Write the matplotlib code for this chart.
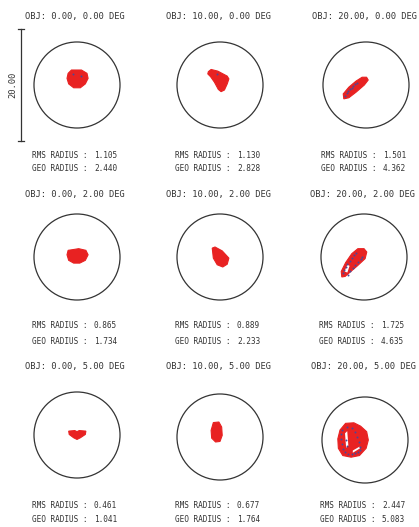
import matplotlib.pyplot as plt
from matplotlib.patches import Circle, Polygon

# --- data (units: micrometres) ---
field_x = [0.00, 10.00, 20.00, 0.00, 10.00, 20.00, 0.00, 10.00, 20.00]
field_y = [0.00, 0.00, 0.00, 2.00, 2.00, 2.00, 5.00, 5.00, 5.00]
rms_radius = [1.105, 1.130, 1.501, 0.865, 0.889, 1.725, 0.461, 0.677, 2.447]
geo_radius = [2.440, 2.828, 4.362, 1.734, 2.233, 4.635, 1.041, 1.764, 5.083]
airy_radius = 7.75
scale_bar = 20.00

# outline of each spot (x, y)
spot_outlines = [
    [(-1.0, 2.7), (0.8, 2.7), (1.8, 2.1), (2.0, 1.2), (1.5, 0.2), (0.6, -0.5),
     (-0.6, -0.5), (-1.5, 0.2), (-1.8, 1.2), (-1.6, 2.1)],
    [(-2.1, 2.4), (-1.6, 2.8), (-0.4, 2.5), (1.3, 1.6), (1.6, 1.1), (1.3, 0.2),
     (0.8, -0.9), (0.2, -1.2), (-0.3, -0.8), (-1.0, 0.5), (-1.7, 1.5), (-2.2, 2.0)],
    [(-4.0, -2.5), (-4.1, -1.6), (-3.1, -0.4), (-1.8, 0.7), (-0.7, 1.4), (0.1, 1.4),
     (0.4, 0.9), (-0.3, 0.0), (-1.8, -1.3), (-3.1, -2.3)],
    [(-1.6, 1.2), (-0.3, 1.4), (0.3, 1.5), (1.6, 1.2), (2.0, 0.4), (1.5, -0.6),
     (0.5, -1.1), (-0.6, -1.1), (-1.5, -0.6), (-1.8, 0.4)],
    [(-1.4, 1.6), (-0.9, 1.8), (0.4, 1.1), (1.6, -0.2), (1.3, -1.3), (0.5, -1.8),
     (-0.5, -1.4), (-1.2, -0.2)],
    [(-4.0, -3.6), (-4.1, -2.6), (-3.3, -1.0), (-2.2, 0.6), (-1.1, 1.5), (0.0, 1.5),
     (0.5, 0.9), (0.2, -0.3), (-1.2, -1.6), (-2.6, -2.8), (-3.4, -3.5)],
    [(-1.5, 0.7), (-0.4, 0.8), (0.0, 0.6), (0.4, 0.8), (1.6, 0.7), (1.5, 0.1),
     (0.6, -0.5), (0.0, -0.8), (-0.6, -0.5), (-1.4, 0.1)],
    [(-1.2, 2.6), (-0.2, 2.7), (0.3, 1.8), (0.4, 0.3), (0.0, -0.8), (-0.8, -0.9),
     (-1.5, -0.2), (-1.6, 1.2)],
    [(-3.5, 3.0), (-2.0, 3.1), (-0.8, 2.5), (0.3, 1.5), (0.6, 0.0), (0.2, -1.5),
     (-1.0, -2.8), (-2.5, -3.1), (-4.0, -2.8), (-4.8, -1.5), (-4.9, 0.2), (-4.5, 1.8)],
]

# gaps inside the spots
spot_holes = [
    [], [], [], [], [],
    [[(-3.5, -2.6), (-3.0, -1.4), (-2.6, -1.6), (-3.0, -2.8)]],
    [], [],
    [[(-3.6, 1.2), (-3.2, 1.6), (-3.0, -1.0), (-3.4, -1.4)],
     [(-2.2, -1.9), (-1.0, -1.2), (-0.9, -1.5), (-2.2, -2.3)]],
]

# second wavelength rays (blue)
blue_x = [
    [-0.8, 0.7],
    [-0.6],
    [-3.8, -3.5, -3.2, -2.9, -2.6, -2.3, -2.0, -1.7],
    [],
    [],
    [-3.8, -3.6, -3.3, -3.0, -2.6, -2.2, -1.8, -1.4, -2.9, -2.5, -2.0, -1.6, -1.1, -0.6, -0.3],
    [],
    [],
    [-4.2, -4.3, -4.3, -4.2, -4.0, -3.6, -3.0, -2.4, -1.8, -1.2, -0.9,
     -2.3, -1.8, -1.4, -1.1, -0.9, -3.2, -3.4, -3.3],
]
blue_y = [
    [1.9, 1.6],
    [2.0],
    [-1.9, -1.5, -1.1, -0.8, -0.5, -0.2, 0.1, 0.4],
    [],
    [],
    [-2.9, -2.4, -1.8, -1.2, -0.7, -0.2, 0.3, 0.8, -3.2, -2.6, -2.0, -1.4, -0.9, -0.4, 0.0],
    [],
    [],
    [1.8, 1.0, 0.1, -0.8, -1.6, -2.2, -2.5, -2.6, -2.4, -2.1, -1.8,
     2.2, 1.4, 0.6, -0.3, -1.3, 2.4, 0.0, -1.0],
]

W, H = 419, 527
PX_PER_UM = 5.55
HALF = 11.0
RED = "#e82222"
BLUE = "#4a4898"
INK = "#333333"

# panel centres in pixels (layout)
centres = [(77, 85), (220, 85), (366, 85),
           (77, 257), (220, 257), (364, 257),
           (77, 435), (220, 437), (365, 440)]
title_y = [17, 194, 367]
rms_y = [155, 326, 506]
geo_y = [168, 341, 520]

fig = plt.figure(figsize=(W / 100, H / 100), dpi=100)


def fx(px):
    return px / W


def fy(py):
    return 1 - py / H


for i in range(9):
    cx, cy = centres[i]
    size = 2 * HALF * PX_PER_UM
    ax = fig.add_axes([fx(cx - size / 2), fy(cy + size / 2), size / W, size / H])
    ax.set_xlim(-HALF, HALF)
    ax.set_ylim(-HALF, HALF)
    ax.axis("off")

    ax.add_patch(Circle((0, 0), airy_radius, fill=False, lw=0.9, ec=INK))
    ax.add_patch(Polygon(spot_outlines[i], closed=True, fc=RED, ec=RED, lw=0.8))
    for hole in spot_holes[i]:
        ax.add_patch(Polygon(hole, closed=True, fc="white", ec="none"))
    if blue_x[i]:
        ax.scatter(blue_x[i], blue_y[i], s=2.0, c=BLUE, lw=0, zorder=3)

    if i == 0:
        bx = -10.1
        ax.plot([bx, bx], [-scale_bar / 2, scale_bar / 2], color=INK, lw=0.9, clip_on=False)
        for yy in (-scale_bar / 2, scale_bar / 2):
            ax.plot([bx - 0.5, bx + 0.5], [yy, yy], color=INK, lw=0.9, clip_on=False)
        ax.text(bx - 1.5, 0, f"{scale_bar:.2f}", rotation=90, ha="center", va="center",
                family="DejaVu Sans Mono", fontsize=6.3, color=INK, clip_on=False)

    row = i // 3
    fig.text(fx(cx - 2), fy(title_y[row]),
             f"OBJ: {field_x[i]:.2f}, {field_y[i]:.2f} DEG",
             ha="center", va="center", family="DejaVu Sans Mono", fontsize=6.3, color=INK)
    fig.text(fx(cx - 45), fy(rms_y[row]), "RMS RADIUS :", ha="left", va="center",
             family="DejaVu Sans Mono", fontsize=5.6, color=INK)
    fig.text(fx(cx + 40), fy(rms_y[row]), f"{rms_radius[i]:.3f}", ha="right", va="center",
             family="DejaVu Sans Mono", fontsize=5.6, color=INK)
    fig.text(fx(cx - 45), fy(geo_y[row]), "GEO RADIUS :", ha="left", va="center",
             family="DejaVu Sans Mono", fontsize=5.6, color=INK)
    fig.text(fx(cx + 40), fy(geo_y[row]), f"{geo_radius[i]:.3f}", ha="right", va="center",
             family="DejaVu Sans Mono", fontsize=5.6, color=INK)

fig.savefig("out.png", dpi=100)
